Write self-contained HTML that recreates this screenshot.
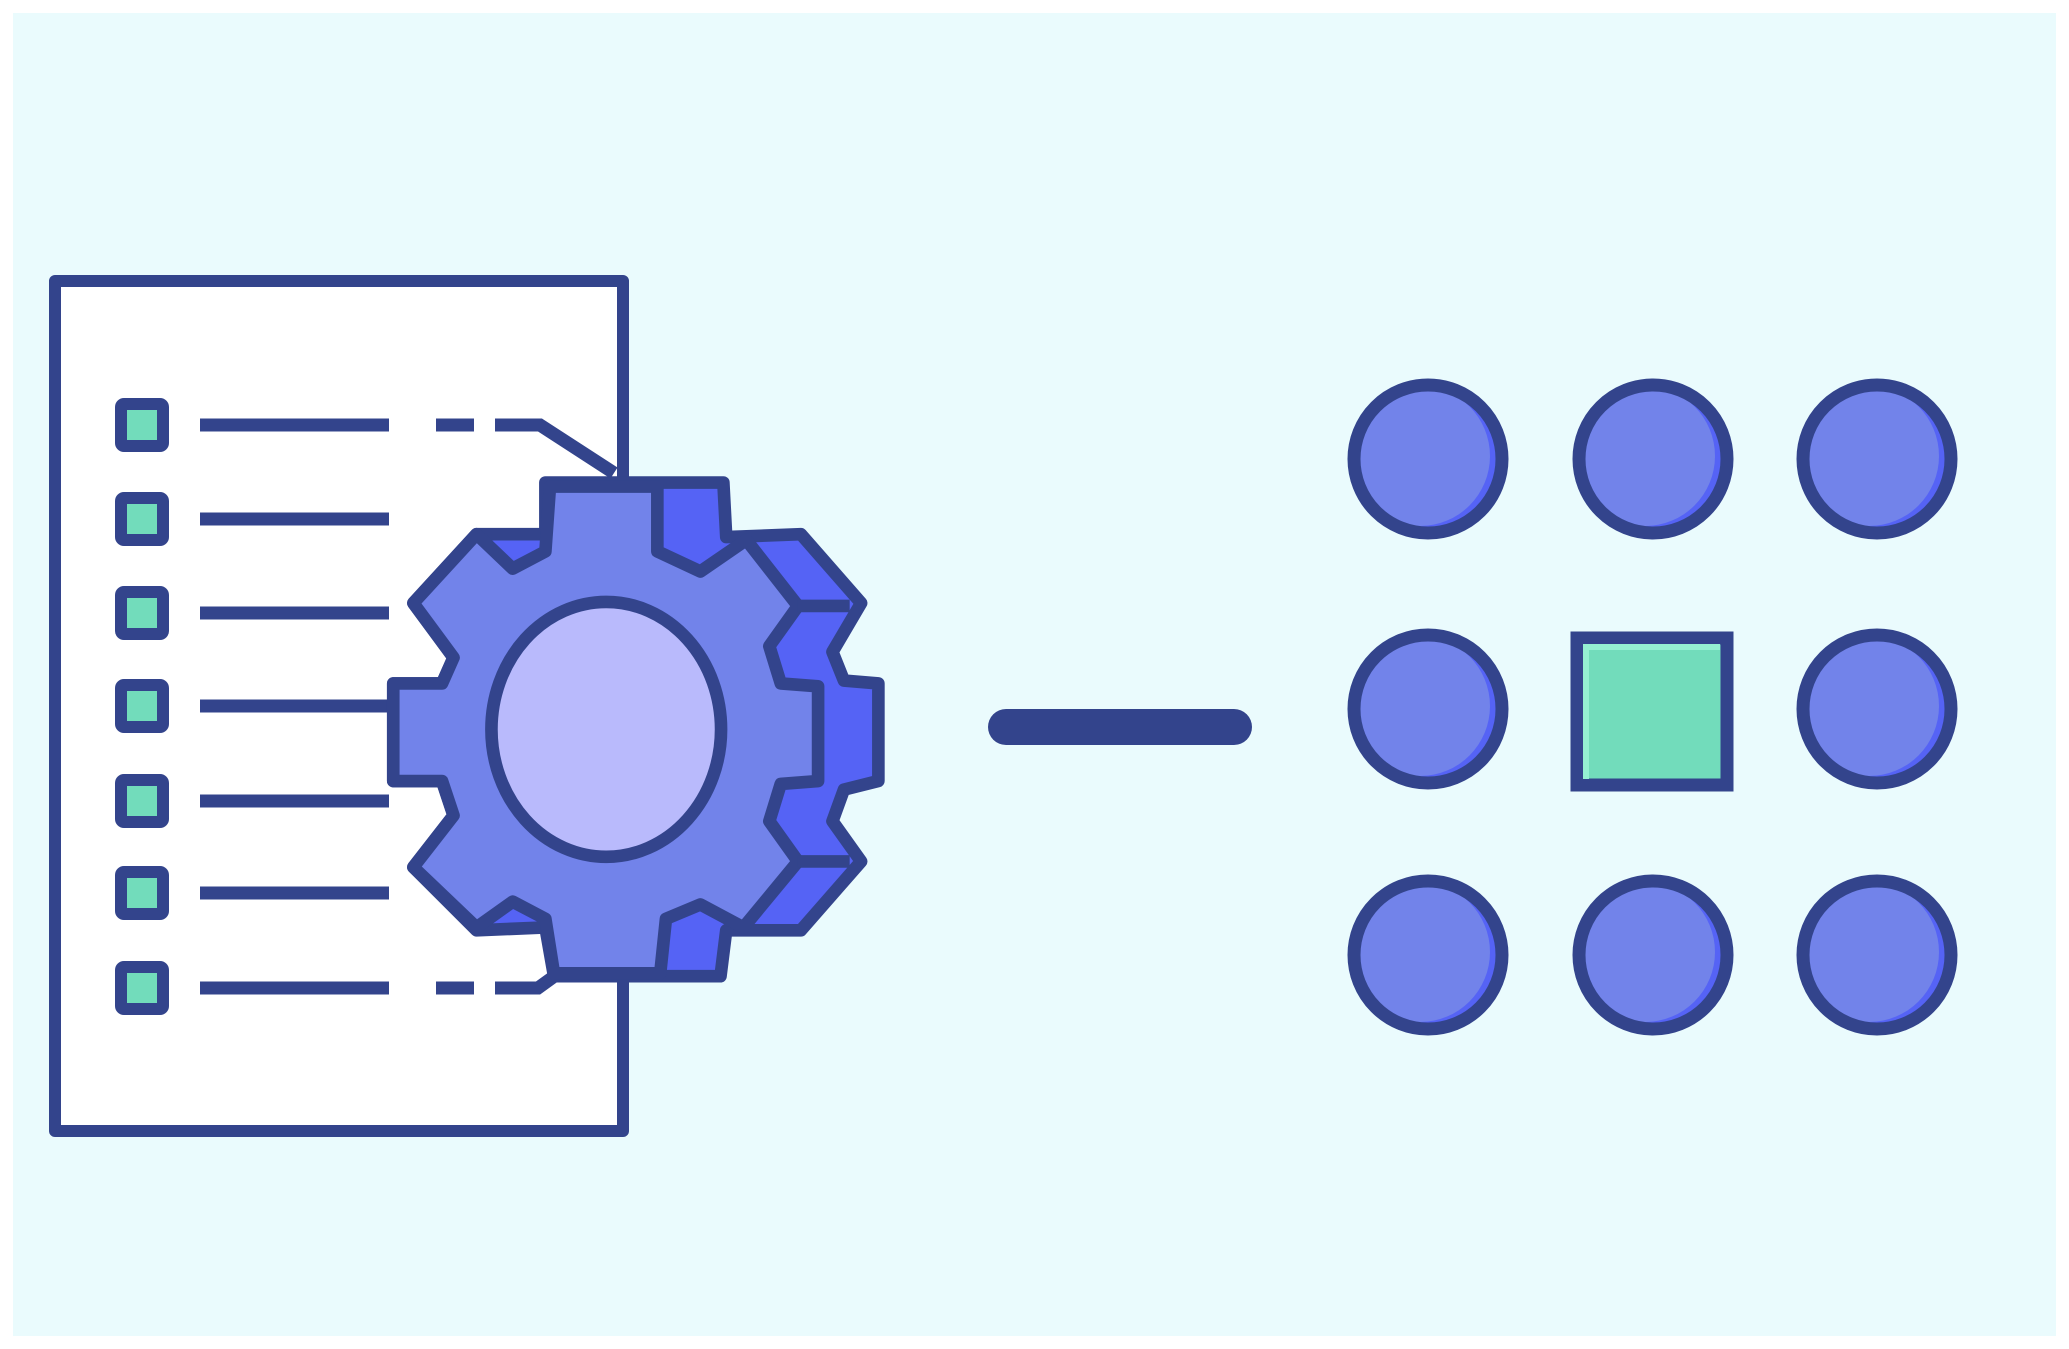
<!DOCTYPE html>
<html><head><meta charset="utf-8"><style>
html,body{margin:0;padding:0;background:#fff;}
svg{display:block;}
</style></head><body>
<svg width="2069" height="1349" viewBox="0 0 2069 1349" xmlns="http://www.w3.org/2000/svg">
<defs>
<g id="dot">
<circle cx="0" cy="0" r="74" fill="#5563f5"/>
<circle cx="-8" cy="-3" r="70" fill="#7283ea"/>
<circle cx="0" cy="0" r="74" fill="none" stroke="#33448c" stroke-width="13"/>
</g>
</defs>
<rect x="0" y="0" width="2069" height="1349" fill="#ffffff"/>
<rect x="13" y="13" width="2043" height="1323" fill="#eafbfd"/>
<!-- document -->
<rect x="55" y="281" width="568" height="850" fill="#ffffff" stroke="#33448c" stroke-width="12" stroke-linejoin="round"/>
<g fill="#72dcbb" stroke="#33448c" stroke-width="12" stroke-linejoin="round">
<rect x="121" y="404" width="42" height="42" rx="3"/>
<rect x="121" y="498" width="42" height="42" rx="3"/>
<rect x="121" y="592" width="42" height="42" rx="3"/>
<rect x="121" y="685" width="42" height="42" rx="3"/>
<rect x="121" y="780" width="42" height="42" rx="3"/>
<rect x="121" y="872" width="42" height="42" rx="3"/>
<rect x="121" y="967" width="42" height="42" rx="3"/>
</g>
<g stroke="#33448c" stroke-width="13" fill="none">
<line x1="200" y1="425" x2="389" y2="425"/>
<line x1="200" y1="519" x2="389" y2="519"/>
<line x1="200" y1="613" x2="389" y2="613"/>
<line x1="200" y1="706" x2="389" y2="706"/>
<line x1="200" y1="801" x2="389" y2="801"/>
<line x1="200" y1="893" x2="389" y2="893"/>
<line x1="200" y1="988" x2="389" y2="988"/>
<line x1="436" y1="425" x2="474" y2="425"/>
<polyline points="495,425 540,425 614,473"/>
<line x1="436" y1="988" x2="474" y2="988"/>
<polyline points="495,988 538,988 556,975"/>
</g>
<!-- gear -->
<g transform="translate(0,250) scale(0.5741)" stroke="#33448c" stroke-width="22" stroke-linejoin="round">
<polygon fill="#5563f5" points="950,405 1260,405 1265,500 1395,495 1500,615 1450,700 1470,750 1530,755 1530,925 1470,940 1450,995 1500,1065 1395,1185 1265,1185 1255,1265 965,1265 950,1180 830,1185 720,1075 790,985 770,925 685,925 685,755 770,755 790,710 720,615 830,495 950,495"/>
<polygon fill="#7283ea" points="958,412 1145,412 1145,525 1220,560 1300,505 1390,620 1340,690 1360,755 1425,760 1425,925 1360,930 1340,995 1390,1065 1295,1180 1220,1140 1160,1165 1150,1260 965,1260 950,1165 893,1135 830,1180 720,1075 790,985 770,925 685,925 685,755 770,755 790,710 720,615 830,495 893,555 950,525"/>
<line x1="1390" y1="620" x2="1480" y2="620"/>
<line x1="1390" y1="1065" x2="1480" y2="1065"/>
<ellipse cx="1056" cy="835" rx="200" ry="222" fill="#b9bafc"/>
</g>
<!-- connector -->
<line x1="1006" y1="727" x2="1234" y2="727" stroke="#33448c" stroke-width="36" stroke-linecap="round"/>
<!-- grid -->
<use href="#dot" x="1428" y="459"/>
<use href="#dot" x="1653" y="459"/>
<use href="#dot" x="1877" y="459"/>
<use href="#dot" x="1428" y="709"/>
<use href="#dot" x="1877" y="709"/>
<use href="#dot" x="1428" y="955"/>
<use href="#dot" x="1653" y="955"/>
<use href="#dot" x="1877" y="955"/>
<rect x="1577" y="638" width="150" height="147" fill="#72dcbb" stroke="#33448c" stroke-width="13"/>
<path d="M1586,779 L1586,647 L1720,647" fill="none" stroke="#95f0d2" stroke-width="6"/>
</svg>
</body></html>
